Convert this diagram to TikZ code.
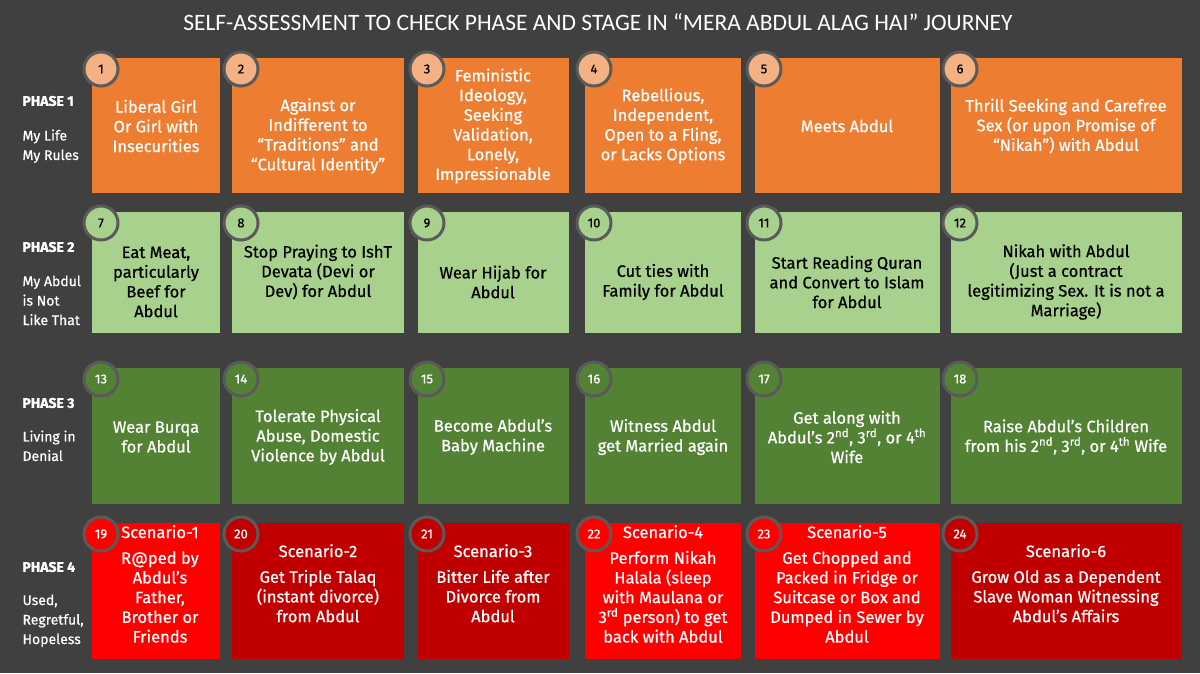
\documentclass[tikz,border=0pt]{standalone}
\usepackage{fontspec}
\setmainfont{Fira Sans}[FakeBold=1.5]
\newfontfamily\boxfont{Fira Sans}[FakeBold=0.6]
\newfontfamily\titlefont{Carlito}
\definecolor{bg}{HTML}{404040}
\definecolor{org}{HTML}{ED7D31}
\definecolor{orgc}{HTML}{F4B183}
\definecolor{lgr}{HTML}{A9D18E}
\definecolor{dgr}{HTML}{548235}
\definecolor{rb}{HTML}{FF0000}
\definecolor{rd}{HTML}{C00000}
\definecolor{ring}{HTML}{5A5A5A}
\newcommand{\bx}[9]{%
  \fill[#6] (#2,#3) rectangle (#4,#5);
  \node[circle,fill=#7,draw=ring,line width=3pt,minimum size=34pt,inner sep=0pt,text=#8,font=\boxfont\fontsize{13}{13}\selectfont] (#1n) at (#2+9,#3+11) {#9};
}
\tikzset{btxt/.style={align=center,font=\boxfont\fontsize{16.5}{19.7}\selectfont,inner sep=0pt},
 ph/.style={anchor=west,text=white,font=\fontsize{14}{14}\selectfont\bfseries},
 phs/.style={anchor=north west,align=left,text=white,font=\boxfont\fontsize{14}{19.5}\selectfont}}
\begin{document}
\begin{tikzpicture}[x=1pt,y=-1pt]
\fill[bg] (0,0) rectangle (1200,673);
\useasboundingbox (0,0) rectangle (1200,673);
\node[text=white,font=\titlefont\fontsize{23.5}{23.5}\selectfont] (title) at (598,22) {SELF-ASSESSMENT TO CHECK PHASE AND STAGE IN “MERA ABDUL ALAG HAI” JOURNEY};
\node[ph] (p1) at (19,101) {PHASE 1};
\node[phs] (p1s) at (19,126) {My Life\\My Rules};
\node[ph] (p2) at (19,247) {PHASE 2};
\node[phs] (p2s) at (19,272) {My Abdul\\is Not\\Like That};
\node[ph] (p3) at (19,403) {PHASE 3};
\node[phs] (p3s) at (19,427) {Living in\\Denial};
\node[ph] (p4) at (19,567) {PHASE 4};
\node[phs] (p4s) at (19,591) {Used,\\Regretful,\\Hopeless};
% row 1
\bx{b1}{92}{58}{220}{193}{org}{orgc}{black}{1}
\bx{b2}{232}{58}{404}{193}{org}{orgc}{black}{2}
\bx{b3}{418}{58}{569}{193}{org}{orgc}{black}{3}
\bx{b4}{585}{58}{741}{193}{org}{orgc}{black}{4}
\bx{b5}{755}{58}{940}{193}{org}{orgc}{black}{5}
\bx{b6}{951}{58}{1182}{193}{org}{orgc}{black}{6}
\node[btxt,text=white] (t1) at (156,126) {Liberal Girl\\Or Girl with\\Insecurities};
\node[btxt,text=white] (t2) at (318,136) {Against or\\Indifferent to\\“Traditions” and\\“Cultural Identity”};
\node[btxt,text=white] (t3) at (493,126) {Feministic\\Ideology,\\Seeking\\Validation,\\Lonely,\\Impressionable};
\node[btxt,text=white] (t4) at (663,126) {Rebellious,\\Independent,\\Open to a Fling,\\or Lacks Options};
\node[btxt,text=white] (t5) at (847,126) {Meets Abdul};
\node[btxt,text=white] (t6) at (1066,126) {Thrill Seeking and Carefree\\Sex (or upon Promise of\\“Nikah”) with Abdul};
% row 2
\bx{b7}{92}{212}{220}{333}{lgr}{lgr}{black}{7}
\bx{b8}{232}{212}{404}{333}{lgr}{lgr}{black}{8}
\bx{b9}{418}{212}{569}{333}{lgr}{lgr}{black}{9}
\bx{b10}{585}{212}{741}{333}{lgr}{lgr}{black}{10}
\bx{b11}{755}{212}{940}{333}{lgr}{lgr}{black}{11}
\bx{b12}{951}{212}{1182}{333}{lgr}{lgr}{black}{12}
\node[btxt] (t7) at (156,282) {Eat Meat,\\particularly\\Beef for\\Abdul};
\node[btxt] (t8) at (318,272) {Stop Praying to IshT\\Devata (Devi or\\Dev) for Abdul};
\node[btxt] (t9) at (493,282) {Wear Hijab for\\Abdul};
\node[btxt] (t10) at (663,282) {Cut ties with\\Family for Abdul};
\node[btxt] (t11) at (847,282) {Start Reading Quran\\and Convert to Islam\\for Abdul};
\node[btxt] (t12) at (1066,282) {Nikah with Abdul\\(Just a contract\\legitimizing Sex. It is not a\\Marriage)};
% row 3
\bx{b13}{92}{368}{220}{504}{dgr}{dgr}{white}{13}
\bx{b14}{232}{368}{404}{504}{dgr}{dgr}{white}{14}
\bx{b15}{418}{368}{569}{504}{dgr}{dgr}{white}{15}
\bx{b16}{585}{368}{741}{504}{dgr}{dgr}{white}{16}
\bx{b17}{755}{368}{940}{504}{dgr}{dgr}{white}{17}
\bx{b18}{951}{368}{1182}{504}{dgr}{dgr}{white}{18}
\node[btxt,text=white] (t13) at (156,437) {Wear Burqa\\for Abdul};
\node[btxt,text=white] (t14) at (318,437) {Tolerate Physical\\Abuse, Domestic\\Violence by Abdul};
\node[btxt,text=white] (t15) at (493,437) {Become Abdul’s\\Baby Machine};
\node[btxt,text=white] (t16) at (663,437) {Witness Abdul\\get Married again};
\node[btxt,text=white] (t17) at (847,437) {Get along with\\Abdul’s 2\textsuperscript{nd}, 3\textsuperscript{rd}, or 4\textsuperscript{th}\\Wife};
\node[btxt,text=white] (t18) at (1066,437) {Raise Abdul’s Children\\from his 2\textsuperscript{nd}, 3\textsuperscript{rd}, or 4\textsuperscript{th} Wife};
% row 4
\bx{b19}{92}{523}{220}{659}{rb}{rb}{white}{19}
\bx{b20}{232}{523}{404}{659}{rd}{rd}{white}{20}
\bx{b21}{418}{523}{569}{659}{rd}{rd}{white}{21}
\bx{b22}{585}{523}{741}{659}{rb}{rb}{white}{22}
\bx{b23}{755}{523}{940}{659}{rb}{rb}{white}{23}
\bx{b24}{951}{523}{1182}{659}{rd}{rd}{white}{24}
\node[btxt,text=white,anchor=north] (t19) at (160,525) {Scenario-1\\[6pt]R@ped by\\Abdul’s\\Father,\\Brother or\\Friends};
\node[btxt,text=white,anchor=north] (t20) at (318,544) {Scenario-2\\[6pt]Get Triple Talaq\\(instant divorce)\\from Abdul};
\node[btxt,text=white,anchor=north] (t21) at (493,544) {Scenario-3\\[6pt]Bitter Life after\\Divorce from\\Abdul};
\node[btxt,text=white,anchor=north] (t22) at (663,525) {Scenario-4\\[6pt]Perform Nikah\\Halala (sleep\\with Maulana or\\3\textsuperscript{rd} person) to get\\back with Abdul};
\node[btxt,text=white,anchor=north] (t23) at (847,525) {Scenario-5\\[6pt]Get Chopped and\\Packed in Fridge or\\Suitcase or Box and\\Dumped in Sewer by\\Abdul};
\node[btxt,text=white,anchor=north] (t24) at (1066,544) {Scenario-6\\[6pt]Grow Old as a Dependent\\Slave Woman Witnessing\\Abdul’s Affairs};
\end{tikzpicture}
\end{document}
